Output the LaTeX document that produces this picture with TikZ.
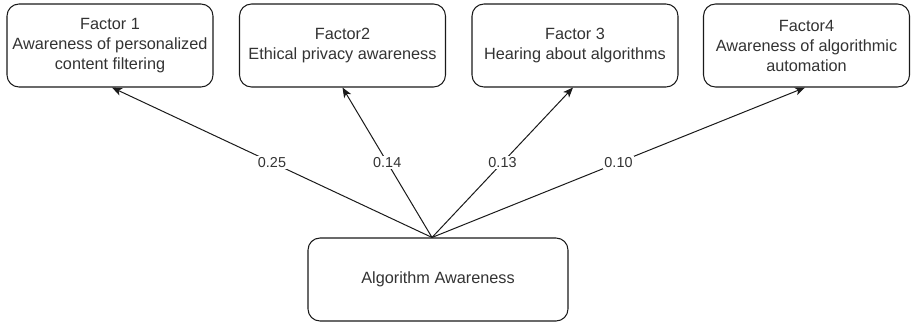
\documentclass[tikz,border=0pt]{standalone}
\usepackage{fontspec}
\setmainfont{Liberation Sans}
\usetikzlibrary{arrows.meta,calc}
\definecolor{txt}{HTML}{333333}
\definecolor{ln}{HTML}{1A1A1A}
\tikzset{
  factorbox/.style={draw=ln, line width=0.8pt, rounded corners=9pt, fill=white,
    minimum width=154.5pt, minimum height=62.25pt, align=center, text=txt,
    font=\fontsize{12.2}{15}\selectfont},
  conn/.style={draw=ln, line width=0.75pt, -{Stealth[length=7.5pt,width=6pt,inset=2pt]}},
  wlabel/.style={fill=white, text=txt, inner sep=1pt, font=\fontsize{10.8}{12}\selectfont}
}
\begin{document}
\begin{tikzpicture}[x=0.75pt,y=-0.75pt]
\useasboundingbox (0,0) rectangle (911,322);
\node[factorbox] (f1) at (110,45.5) {Factor 1\\Awareness of personalized\\content filtering};
\node[factorbox] (f2) at (342.5,45.5) {Factor2\\Ethical privacy awareness};
\node[factorbox] (f3) at (575,45.5) {Factor 3\\Hearing about algorithms};
\node[factorbox] (f4) at (806.5,45.5) {Factor4\\Awareness of algorithmic\\automation};
\node[factorbox, minimum width=195pt] (bot) at (438,279.5) {Algorithm Awareness};
\coordinate (src) at ($(bot.north)+(-6,0)$);
\draw[conn] (src) -- node[wlabel] {0.25} ($(f1.south)+(2,0)$);
\draw[conn] (src) -- node[wlabel] {0.14} (f2.south);
\draw[conn] (src) -- node[wlabel] {0.13} ($(f3.south)+(-2,0)$);
\draw[conn] (src) -- node[wlabel] {0.10} ($(f4.south)+(-1.5,0)$);
\end{tikzpicture}
\end{document}
